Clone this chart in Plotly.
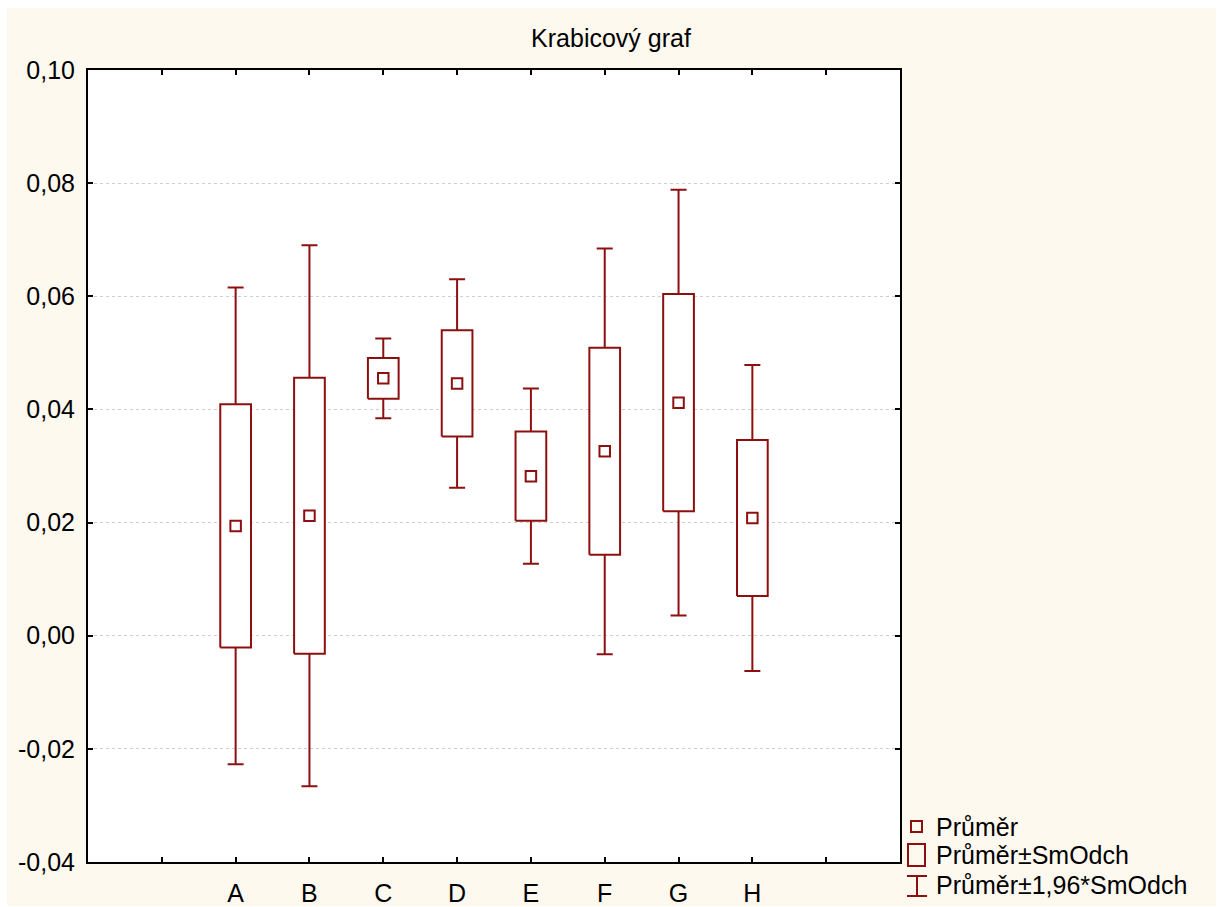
import plotly.graph_objects as go

# --- data -------------------------------------------------------------
categories = ["A", "B", "C", "D", "E", "F", "G", "H"]
means = [0.0194, 0.0212, 0.0455, 0.0446, 0.0282, 0.0326, 0.0412, 0.0208]
std_devs = [0.0215, 0.0244, 0.0036, 0.0094, 0.0079, 0.0183, 0.0192, 0.0138]

x_positions = [2, 3, 4, 5, 6, 7, 8, 9]
x_tick_vals = [1, 2, 3, 4, 5, 6, 7, 8, 9, 10]
x_tick_text = [""] + categories + [""]
y_tick_vals = [-0.04, -0.02, 0.00, 0.02, 0.04, 0.06, 0.08, 0.10]
y_tick_text = ["-0,04", "-0,02", "0,00", "0,02", "0,04", "0,06", "0,08", "0,10"]

legend_labels = ["Průměr", "Průměr±SmOdch", "Průměr±1,96*SmOdch"]

# --- styling ----------------------------------------------------------
RED = "#8c1010"
CREAM = "#fdf9ef"
FONT = "Liberation Sans, Arial, sans-serif"
Z = 1.96
BOX_HALF = 0.208

# plot area in pixels (for the hand-drawn legend placed outside it)
W, H = 1222, 907
L, R, T, B = 88, 900, 70, 862


def px_x(px):
    return (px - L) / (R - L)


def px_y(py):
    return (B - py) / (B - T)


box_lo = [m - s for m, s in zip(means, std_devs)]
box_hi = [m + s for m, s in zip(means, std_devs)]
whisker = [Z * s for s in std_devs]

fig = go.Figure()

# whiskers: mean ± 1.96 SD as capped error bars
fig.add_trace(go.Scatter(
    x=x_positions, y=means, mode="markers",
    marker=dict(size=1, opacity=0),
    error_y=dict(type="data", array=whisker, symmetric=True,
                 color=RED, thickness=2, width=8),
    showlegend=False, hoverinfo="skip",
))

# boxes: mean ± SD, filled white so the whisker stem stays hidden inside
for xc, lo, hi in zip(x_positions, box_lo, box_hi):
    fig.add_trace(go.Scatter(
        x=[xc - BOX_HALF, xc + BOX_HALF, xc + BOX_HALF, xc - BOX_HALF, xc - BOX_HALF],
        y=[lo, lo, hi, hi, lo],
        mode="lines", fill="toself", fillcolor="white",
        line=dict(color=RED, width=2),
        showlegend=False, hoverinfo="skip",
    ))

# means
fig.add_trace(go.Scatter(
    x=x_positions, y=means, mode="markers",
    marker=dict(symbol="square", size=10.5, color="white",
                line=dict(color=RED, width=2)),
    showlegend=False,
))

shapes = [
    # cream page with a thin white border
    dict(type="rect", xref="paper", yref="paper", layer="below",
         x0=px_x(7), x1=px_x(1216), y0=px_y(906), y1=px_y(8),
         fillcolor=CREAM, line=dict(width=0)),
    # white plotting area
    dict(type="rect", xref="paper", yref="paper", layer="below",
         x0=0, x1=1, y0=0, y1=1, fillcolor="white", line=dict(width=0)),
    # legend glyphs
    dict(type="rect", xref="paper", yref="paper",
         x0=px_x(911), x1=px_x(922), y0=px_y(832), y1=px_y(821),
         line=dict(color=RED, width=2), fillcolor="rgba(0,0,0,0)"),
    dict(type="rect", xref="paper", yref="paper",
         x0=px_x(908), x1=px_x(925), y0=px_y(866), y1=px_y(844),
         line=dict(color=RED, width=2), fillcolor="rgba(0,0,0,0)"),
    dict(type="line", xref="paper", yref="paper",
         x0=px_x(917), x1=px_x(917), y0=px_y(896), y1=px_y(876),
         line=dict(color=RED, width=2)),
    dict(type="line", xref="paper", yref="paper",
         x0=px_x(907), x1=px_x(927), y0=px_y(876), y1=px_y(876),
         line=dict(color=RED, width=2)),
    dict(type="line", xref="paper", yref="paper",
         x0=px_x(907), x1=px_x(927), y0=px_y(896), y1=px_y(896),
         line=dict(color=RED, width=2)),
]

annotations = []
for label, py in zip(legend_labels, [826.5, 855, 885]):
    annotations.append(dict(
        text=label, xref="paper", yref="paper",
        x=px_x(934), y=px_y(py), xanchor="left", yanchor="middle",
        showarrow=False, font=dict(family=FONT, size=25, color="black"),
    ))

axis_common = dict(
    showline=True, linewidth=2, linecolor="black", mirror="ticks",
    ticks="inside", ticklen=5, tickwidth=2, tickcolor="black",
    zeroline=False, automargin=False,
    tickfont=dict(family=FONT, size=25, color="black"),
)

fig.update_layout(
    width=W, height=H,
    margin=dict(l=L, r=W - R, t=T, b=H - B, pad=0, autoexpand=False),
    paper_bgcolor="white", plot_bgcolor="white",
    title=dict(text="Krabicový graf", x=0.5, xanchor="center",
               y=1 - 38 / H, yanchor="middle",
               font=dict(family=FONT, size=25, color="black")),
    xaxis=dict(range=[0, 11], tickmode="array", tickvals=x_tick_vals,
               ticktext=x_tick_text, showgrid=False,
               ticklabelstandoff=8, **axis_common),
    yaxis=dict(range=[-0.04, 0.10], tickmode="array", tickvals=y_tick_vals,
               ticktext=y_tick_text, showgrid=True, gridcolor="#cfcfcf",
               griddash="dot", gridwidth=1, ticklabelstandoff=6,
               **axis_common),
    shapes=shapes, annotations=annotations,
    showlegend=False,
)

fig.write_html("out.html")
